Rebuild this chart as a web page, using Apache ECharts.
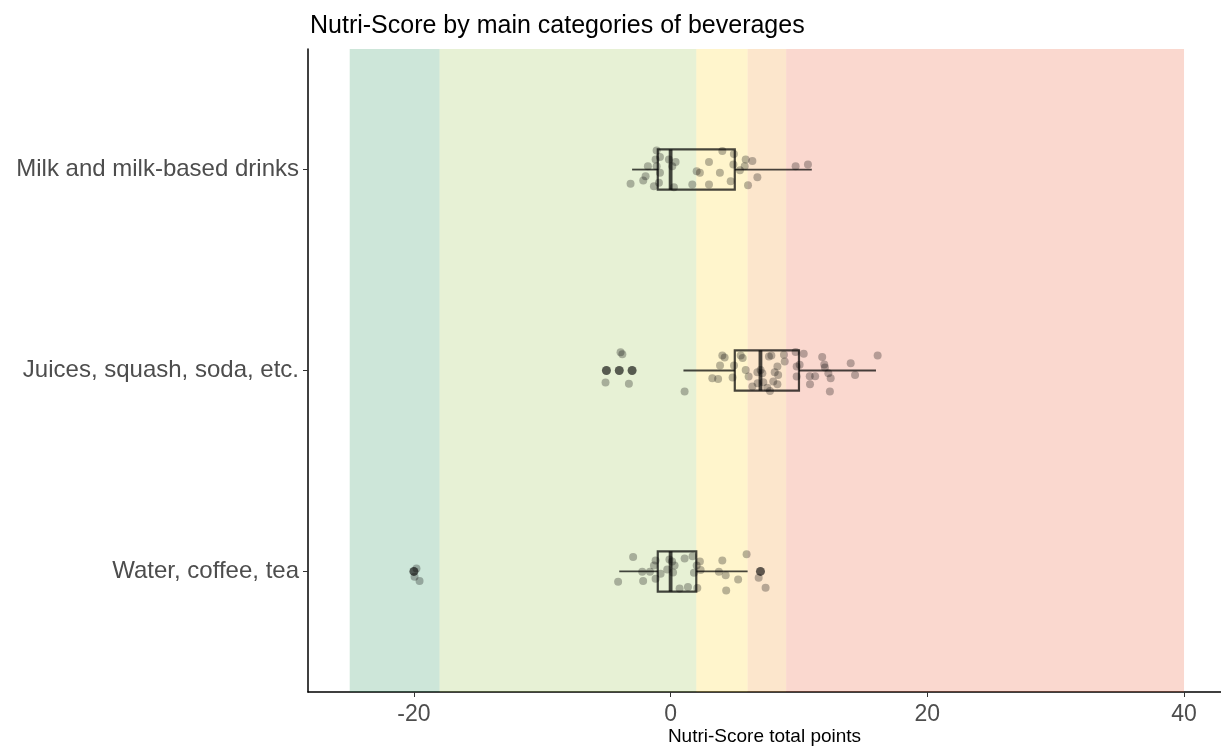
<!DOCTYPE html>
<html>
<head>
<meta charset="utf-8">
<script src="https://cdn.jsdelivr.net/npm/echarts@6/dist/echarts.min.js"></script>
<style>
  html, body { margin: 0; padding: 0; background: #fff; }
  #chart { width: 1221px; height: 747px; }
</style>
</head>
<body>
<div id="chart"></div>
<script>
// categories, bottom to top (y = 1, 2, 3)
var categories = ['Water, coffee, tea', 'Juices, squash, soda, etc.', 'Milk and milk-based drinks'];

// box statistics per category
var boxLow    = [-4, 1, -3];
var boxQ1     = [-1, 5, -1];
var boxMedian = [0, 7, 0];
var boxQ3     = [2, 10, 5];
var boxHigh   = [6, 16, 11];

// outliers [score, category position]
var outliers = [[-20, 1], [7, 1], [-5, 2], [-4, 2], [-3, 2]];

// jittered observations [score, jittered category position]
var jitterWater = [
  [-2.92, 1.072], [-4.09, 0.949], [-2.21, 0.998], [-2.14, 0.952], [-1.61, 0.998],
  [-1.30, 1.030], [-1.17, 1.055], [-1.17, 0.964], [-0.78, 0.988], [-0.09, 1.060],
  [0.12, 1.049], [0.31, 1.030], [-0.26, 1.010], [0.19, 0.995], [1.09, 1.065],
  [1.71, 1.076], [2.03, 1.030], [1.82, 0.994], [0.70, 0.915], [1.35, 0.922],
  [2.08, 0.917], [2.28, 1.050], [2.34, 1.007], [4.03, 1.055], [3.76, 0.998],
  [4.29, 0.981], [4.33, 0.905], [5.26, 0.960], [5.92, 1.085], [6.86, 0.969],
  [7.40, 0.919], [-19.80, 1.015], [-19.95, 0.974], [-19.56, 0.952]
];
var jitterJuices = [
  [1.09, 1.895], [4.03, 2.075], [4.21, 2.065], [3.85, 2.025], [3.25, 1.962],
  [3.70, 1.958], [4.94, 2.025], [4.83, 1.965], [5.46, 2.075], [5.61, 2.062],
  [5.85, 2.003], [6.08, 1.970], [6.37, 1.920], [6.78, 1.936], [6.76, 1.991],
  [7.01, 2.003], [7.15, 1.986], [7.22, 1.941], [7.53, 1.914], [7.74, 1.898],
  [7.66, 2.070], [7.85, 2.075], [8.00, 1.945], [8.11, 1.991], [8.32, 2.020],
  [8.38, 1.978], [8.32, 1.932], [8.83, 2.078], [8.89, 2.045], [9.74, 2.092],
  [10.37, 2.083], [9.82, 2.020], [10.05, 2.028], [9.82, 1.970], [10.84, 1.972],
  [11.26, 1.972], [10.86, 1.932], [11.81, 2.067], [11.97, 2.030], [12.02, 2.015],
  [12.29, 1.986], [12.47, 1.961], [12.41, 1.895], [14.03, 2.036], [14.37, 1.978],
  [16.13, 2.075], [-3.90, 2.091], [-3.76, 2.081], [-5.07, 1.940], [-3.25, 1.934]
];
var jitterMilk = [
  [-1.09, 3.095], [-0.83, 3.062], [-1.17, 3.050], [-1.77, 3.017], [-1.09, 3.017],
  [-0.83, 2.984], [-1.95, 2.967], [-2.13, 2.946], [-3.12, 2.929], [-1.30, 2.917],
  [-0.91, 2.934], [-0.13, 3.050], [0.39, 3.038], [0.13, 3.017], [0.26, 2.912],
  [1.69, 2.926], [2.03, 2.992], [2.28, 2.984], [2.99, 3.038], [2.99, 2.926],
  [3.84, 2.984], [4.03, 3.092], [4.93, 3.078], [4.89, 3.025], [4.68, 2.942],
  [5.85, 3.050], [6.37, 3.042], [5.77, 3.017], [5.40, 2.996], [6.76, 2.962],
  [6.03, 2.922], [9.74, 3.017], [10.70, 3.025]
];

// Nutri-Score grade bands
var bandEdges  = [-25, -18, 2, 6, 9, 40];
var bandColors = ['#038141', '#85BB2F', '#FECB02', '#EE8100', '#E63E11'];

var xTicks = [-20, 0, 20, 40];

var chart = echarts.init(document.getElementById('chart'));
var font = 'Liberation Sans, Arial, sans-serif';

var boxData = categories.map(function (c, i) {
  return [boxLow[i], boxQ1[i], boxMedian[i], boxQ3[i], boxHigh[i], i + 1];
});

var bands = bandColors.map(function (col, i) {
  return [
    { xAxis: bandEdges[i], itemStyle: { color: col, opacity: 0.2 } },
    { xAxis: bandEdges[i + 1] }
  ];
});

var halfH = 0.1;
var lineCol = 'rgba(0,0,0,0.72)';

function renderBox(params, api) {
  var y = api.value(5);
  var pLow = api.coord([api.value(0), y]);
  var pQ1 = api.coord([api.value(1), y]);
  var pMed = api.coord([api.value(2), y]);
  var pQ3 = api.coord([api.value(3), y]);
  var pHigh = api.coord([api.value(4), y]);
  var top = api.coord([api.value(1), y + halfH])[1];
  var bot = api.coord([api.value(1), y - halfH])[1];
  return {
    type: 'group',
    children: [
      { type: 'line', shape: { x1: pLow[0], y1: pLow[1], x2: pQ1[0], y2: pQ1[1] },
        style: { stroke: lineCol, lineWidth: 1.8 } },
      { type: 'line', shape: { x1: pQ3[0], y1: pQ3[1], x2: pHigh[0], y2: pHigh[1] },
        style: { stroke: lineCol, lineWidth: 1.8 } },
      { type: 'rect', shape: { x: pQ1[0], y: top, width: pQ3[0] - pQ1[0], height: bot - top },
        style: { fill: 'none', stroke: lineCol, lineWidth: 2.2 } },
      { type: 'line', shape: { x1: pMed[0], y1: top, x2: pMed[0], y2: bot },
        style: { stroke: lineCol, lineWidth: 3.8 } }
    ]
  };
}

var jitterStyle = { color: 'rgba(0,0,0,0.35)' };

var option = {
  animation: false,
  title: {
    text: 'Nutri-Score by main categories of beverages',
    left: 305,
    top: 9,
    textStyle: { fontFamily: font, fontSize: 25, fontWeight: 'normal', color: '#000' }
  },
  grid: { left: 308, right: 0, top: 49, bottom: 55, outerBoundsMode: 'none' },
  xAxis: {
    type: 'value',
    min: -28.25,
    max: 42.88,
    name: 'Nutri-Score total points',
    nameLocation: 'middle',
    nameGap: 35,
    nameMoveOverlap: false,
    nameTextStyle: { fontFamily: font, fontSize: 19, color: '#000' },
    splitLine: { show: false },
    axisLine: { show: true, onZero: false, lineStyle: { color: '#000', width: 1.5 } },
    axisTick: { show: true, length: 5, customValues: xTicks, lineStyle: { color: '#333' } },
    axisLabel: { customValues: xTicks, margin: 11, fontFamily: font, fontSize: 23, color: '#4d4d4d' }
  },
  yAxis: {
    type: 'value',
    min: 0.4,
    max: 3.6,
    splitLine: { show: false },
    axisLine: { show: true, onZero: false, lineStyle: { color: '#000', width: 1.5 } },
    axisTick: { show: true, length: 5, customValues: [1, 2, 3], lineStyle: { color: '#333' } },
    axisLabel: {
      customValues: [1, 2, 3],
      margin: 9,
      fontFamily: font,
      fontSize: 24,
      color: '#4d4d4d',
      formatter: function (v) { return categories[Math.round(v) - 1]; }
    }
  },
  series: [
    {
      type: 'custom',
      renderItem: renderBox,
      data: boxData,
      encode: { x: [0, 1, 2, 3, 4], y: 5 },
      silent: true,
      z: 2,
      markArea: { silent: true, label: { show: false }, data: bands }
    },
    {
      type: 'scatter',
      data: outliers,
      symbolSize: 9,
      itemStyle: { color: 'rgba(0,0,0,0.78)' },
      silent: true,
      z: 3
    },
    { type: 'scatter', data: jitterWater, symbolSize: 8, itemStyle: jitterStyle, silent: true, z: 4 },
    { type: 'scatter', data: jitterJuices, symbolSize: 8, itemStyle: jitterStyle, silent: true, z: 4 },
    { type: 'scatter', data: jitterMilk, symbolSize: 8, itemStyle: jitterStyle, silent: true, z: 4 }
  ]
};

chart.setOption(option);
</script>
</body>
</html>
